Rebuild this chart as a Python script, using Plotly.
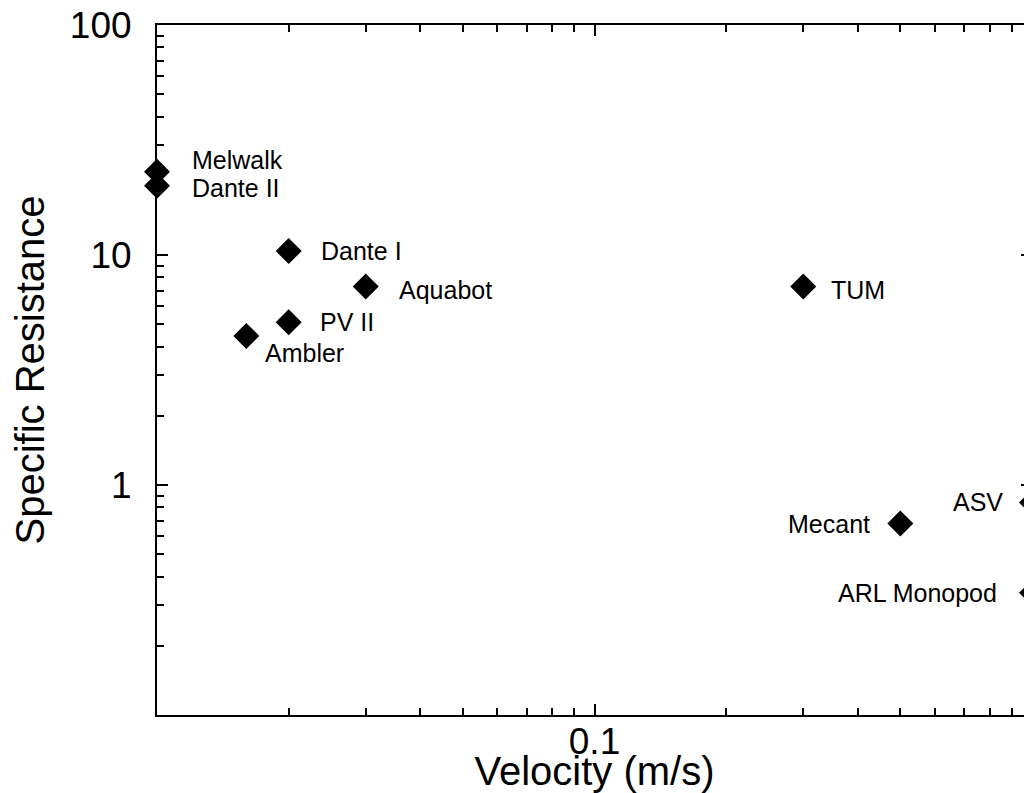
import math
import plotly.graph_objects as go

robots = ["Melwalk", "Dante II", "Dante I", "Aquabot", "PV II", "Ambler",
          "TUM", "Mecant", "ASV", "ARL Monopod"]
velocity = [0.01, 0.01, 0.02, 0.03, 0.02, 0.016, 0.3, 0.5, 1.0, 1.0]
specific_resistance = [23, 20, 10.4, 7.3, 5.1, 4.45, 7.3, 0.68, 0.84, 0.34]

x_major = [0.01, 0.1, 1]
x_major_text = ["", "0.1", "1"]
y_major = [0.1, 1, 10, 100]
y_major_text = ["", "1", "10", "100"]

# label placement (pixel offsets from the marker)
label_dx = [33, 33, 30, 31, 29, 17, 26, -28, -27, -33]
label_dy = [12, -2, 0, -4, 0, -17, -4, 0, 0, 0]

FONT = "Liberation Sans, Arial, Helvetica, sans-serif"
X_RANGE = [-2, 0]
Y_RANGE = [-1, 2]


def minor_vals(lo_exp, hi_exp):
    return [m * 10 ** e for e in range(lo_exp, hi_exp) for m in range(2, 10)]


fig = go.Figure()
fig.add_trace(go.Scatter(
    x=velocity, y=specific_resistance, mode="markers",
    marker=dict(symbol="diamond", size=20, color="black", line=dict(width=0)),
    cliponaxis=False, showlegend=False, hoverinfo="skip"))
# invisible trace so the mirrored (top/right) axes are drawn
fig.add_trace(go.Scatter(x=[velocity[0]], y=[specific_resistance[0]], xaxis="x2", yaxis="y2",
                         mode="markers", marker=dict(opacity=0), showlegend=False,
                         hoverinfo="skip"))

for name, vx, vy, dx, dy in zip(robots, velocity, specific_resistance, label_dx, label_dy):
    fig.add_annotation(x=math.log10(vx), y=math.log10(vy), xref="x", yref="y",
                       text=name, showarrow=False,
                       xanchor="left" if dx > 0 else "right", yanchor="middle",
                       xshift=dx, yshift=dy,
                       font=dict(family=FONT, size=25, color="black"))

tick_common = dict(
    type="log", showgrid=False, zeroline=False,
    showline=True, linecolor="black", linewidth=2,
    ticks="inside", ticklen=11, tickwidth=1.5, tickcolor="black",
    tickfont=dict(family=FONT, size=37, color="black"),
    ticklabeloverflow="allow",
)
minor_x = dict(tickmode="array", tickvals=minor_vals(-2, 0), ticks="inside",
               ticklen=7, tickwidth=1.5, tickcolor="black", showgrid=False)
minor_y = dict(tickmode="array", tickvals=minor_vals(-1, 2), ticks="inside",
               ticklen=7, tickwidth=1.5, tickcolor="black", showgrid=False)

fig.update_layout(
    xaxis=dict(**tick_common, range=X_RANGE,
               tickmode="array", tickvals=x_major, ticktext=x_major_text, minor=minor_x,
               title=dict(text="Velocity (m/s)", font=dict(family=FONT, size=40, color="black"),
                          standoff=11),
               ticklabelstandoff=-7),
    yaxis=dict(**tick_common, range=Y_RANGE,
               tickmode="array", tickvals=y_major, ticktext=y_major_text, minor=minor_y,
               title=dict(text="Specific Resistance", font=dict(family=FONT, size=40, color="black"),
                          standoff=37),
               ticklabelstandoff=16),
    xaxis2=dict(**tick_common, range=X_RANGE, overlaying="x", side="top", anchor="y2",
                tickmode="array", tickvals=x_major, showticklabels=False, minor=minor_x),
    yaxis2=dict(**tick_common, range=Y_RANGE, overlaying="y", side="right", anchor="x2",
                tickmode="array", tickvals=y_major, showticklabels=False, minor=minor_y),
    width=1024, height=785,
    margin=dict(l=149, r=0, t=17, b=78, autoexpand=False),
    paper_bgcolor="white", plot_bgcolor="white",
    font=dict(family=FONT, color="black"),
)

fig.write_html("out.html")
